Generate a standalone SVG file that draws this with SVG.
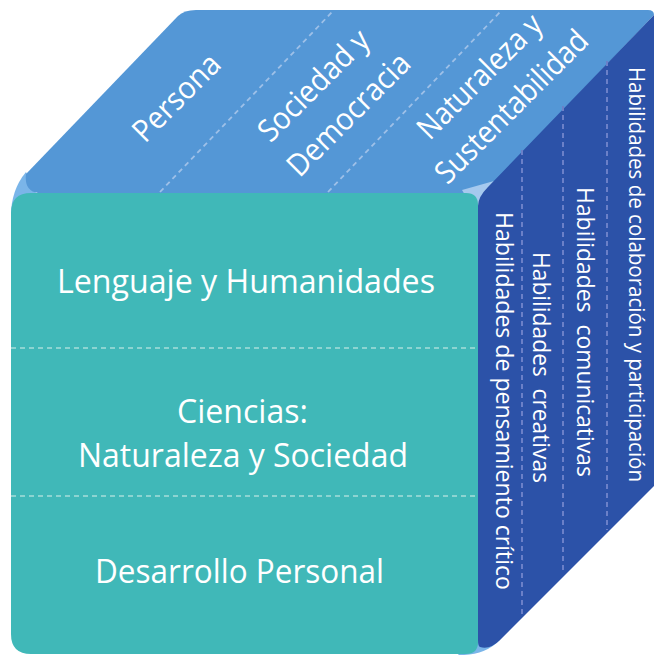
<svg xmlns="http://www.w3.org/2000/svg" width="654" height="655" viewBox="0 0 654 655">
<style>
.t{font-family:"Open Sans","Noto Sans","Liberation Sans",sans-serif;fill:#FFFFFF;white-space:pre}
.front{font-size:32.5px}
.top{font-size:31px}
.side{font-size:24px}
.dTop{stroke:#9EC0E8;stroke-width:1.8;stroke-dasharray:5 4;fill:none}
.dFront{stroke:#8DD4D1;stroke-width:1.8;stroke-dasharray:5 4;fill:none}
.dSide{stroke:#6B80C8;stroke-width:2;stroke-dasharray:5 4;fill:none}
</style>
<rect x="0" y="0" width="654" height="655" fill="#FFFFFF"/>
<path d="M26,172 Q11,190 11,216 L36,216 L36,193 Z" fill="#7AB5E9"/>
<path d="M458,655 Q484,656 500,640 L478,630 Z" fill="#7AB5E9"/>
<g id="top-face">
  <path d="M196,10 L648,10 Q654,10 654,15 L490,187 Q484,193 474,193 L38,193 Q24,191 26,174 L178,16 Q184,10 196,10 Z" fill="#5497D6"/>
  <path d="M462,190 L494,181 L480,212 L468,200 Z" fill="#A6C9EE"/>
  <text class="t top" text-anchor="middle" textLength="110" lengthAdjust="spacingAndGlyphs" transform="translate(184,105) rotate(-45)">Persona</text>
  <text class="t top" text-anchor="middle" textLength="143" lengthAdjust="spacingAndGlyphs" transform="translate(321,93) rotate(-45)">Sociedad y</text>
  <text class="t top" text-anchor="middle" textLength="160" lengthAdjust="spacingAndGlyphs" transform="translate(356,122) rotate(-45)">Democracia</text>
  <text class="t top" text-anchor="middle" textLength="162" lengthAdjust="spacingAndGlyphs" transform="translate(487,84) rotate(-45)">Naturaleza y</text>
  <text class="t top" text-anchor="middle" textLength="202" lengthAdjust="spacingAndGlyphs" transform="translate(519,114) rotate(-45)">Sustentabilidad</text>
</g>
<g id="front-face">
  <path d="M31,193 L466,193 Q478,193 478,205 L478,642 Q478,654 466,654 L31,654 Q11,654 11,634 L11,213 Q11,193 31,193 Z" fill="#40B8B8"/>
  <text class="t front" x="246" y="293" text-anchor="middle" textLength="378" lengthAdjust="spacingAndGlyphs">Lenguaje y Humanidades</text>
  <text class="t front" x="242.5" y="423" text-anchor="middle" textLength="131" lengthAdjust="spacingAndGlyphs">Ciencias:</text>
  <text class="t front" x="243" y="467" text-anchor="middle" textLength="330" lengthAdjust="spacingAndGlyphs">Naturaleza y Sociedad</text>
  <text class="t front" x="239.5" y="583" text-anchor="middle" textLength="289" lengthAdjust="spacingAndGlyphs">Desarrollo Personal</text>
</g>
<g id="right-face">
  <path d="M654,15 L654,486 L500,640 Q490,650 480,647 Q478,646 478,640 L478,206 Q478,197 488,187 Z" fill="#2C52A8"/>
  <text class="t side" style="font-size:21.5px" x="0" y="0" textLength="415" lengthAdjust="spacingAndGlyphs" transform="translate(629,67) rotate(90)">Habilidades de colaboración y participación</text>
  <text class="t side" x="0" y="0" textLength="290" lengthAdjust="spacingAndGlyphs" transform="translate(577,187) rotate(90)">Habilidades  comunicativas</text>
  <text class="t side" x="0" y="0" textLength="231" lengthAdjust="spacingAndGlyphs" transform="translate(533,252) rotate(90)">Habilidades  creativas</text>
  <text class="t side" x="0" y="0" textLength="378" lengthAdjust="spacingAndGlyphs" transform="translate(496,212) rotate(90)">Habilidades de pensamiento crítico</text>
</g>
<g id="dividers">
  <line class="dTop" x1="160" y1="192" x2="334" y2="10"/>
  <line class="dTop" x1="328" y1="192" x2="502" y2="10"/>
  <line class="dFront" x1="11" y1="348" x2="478" y2="348"/>
  <line class="dFront" x1="11" y1="496" x2="478" y2="496"/>
  <line class="dSide" x1="522" y1="150" x2="522" y2="614"/>
  <line class="dSide" x1="563" y1="106" x2="563" y2="573"/>
  <line class="dSide" x1="607" y1="61" x2="607" y2="530"/>
</g>
</svg>
